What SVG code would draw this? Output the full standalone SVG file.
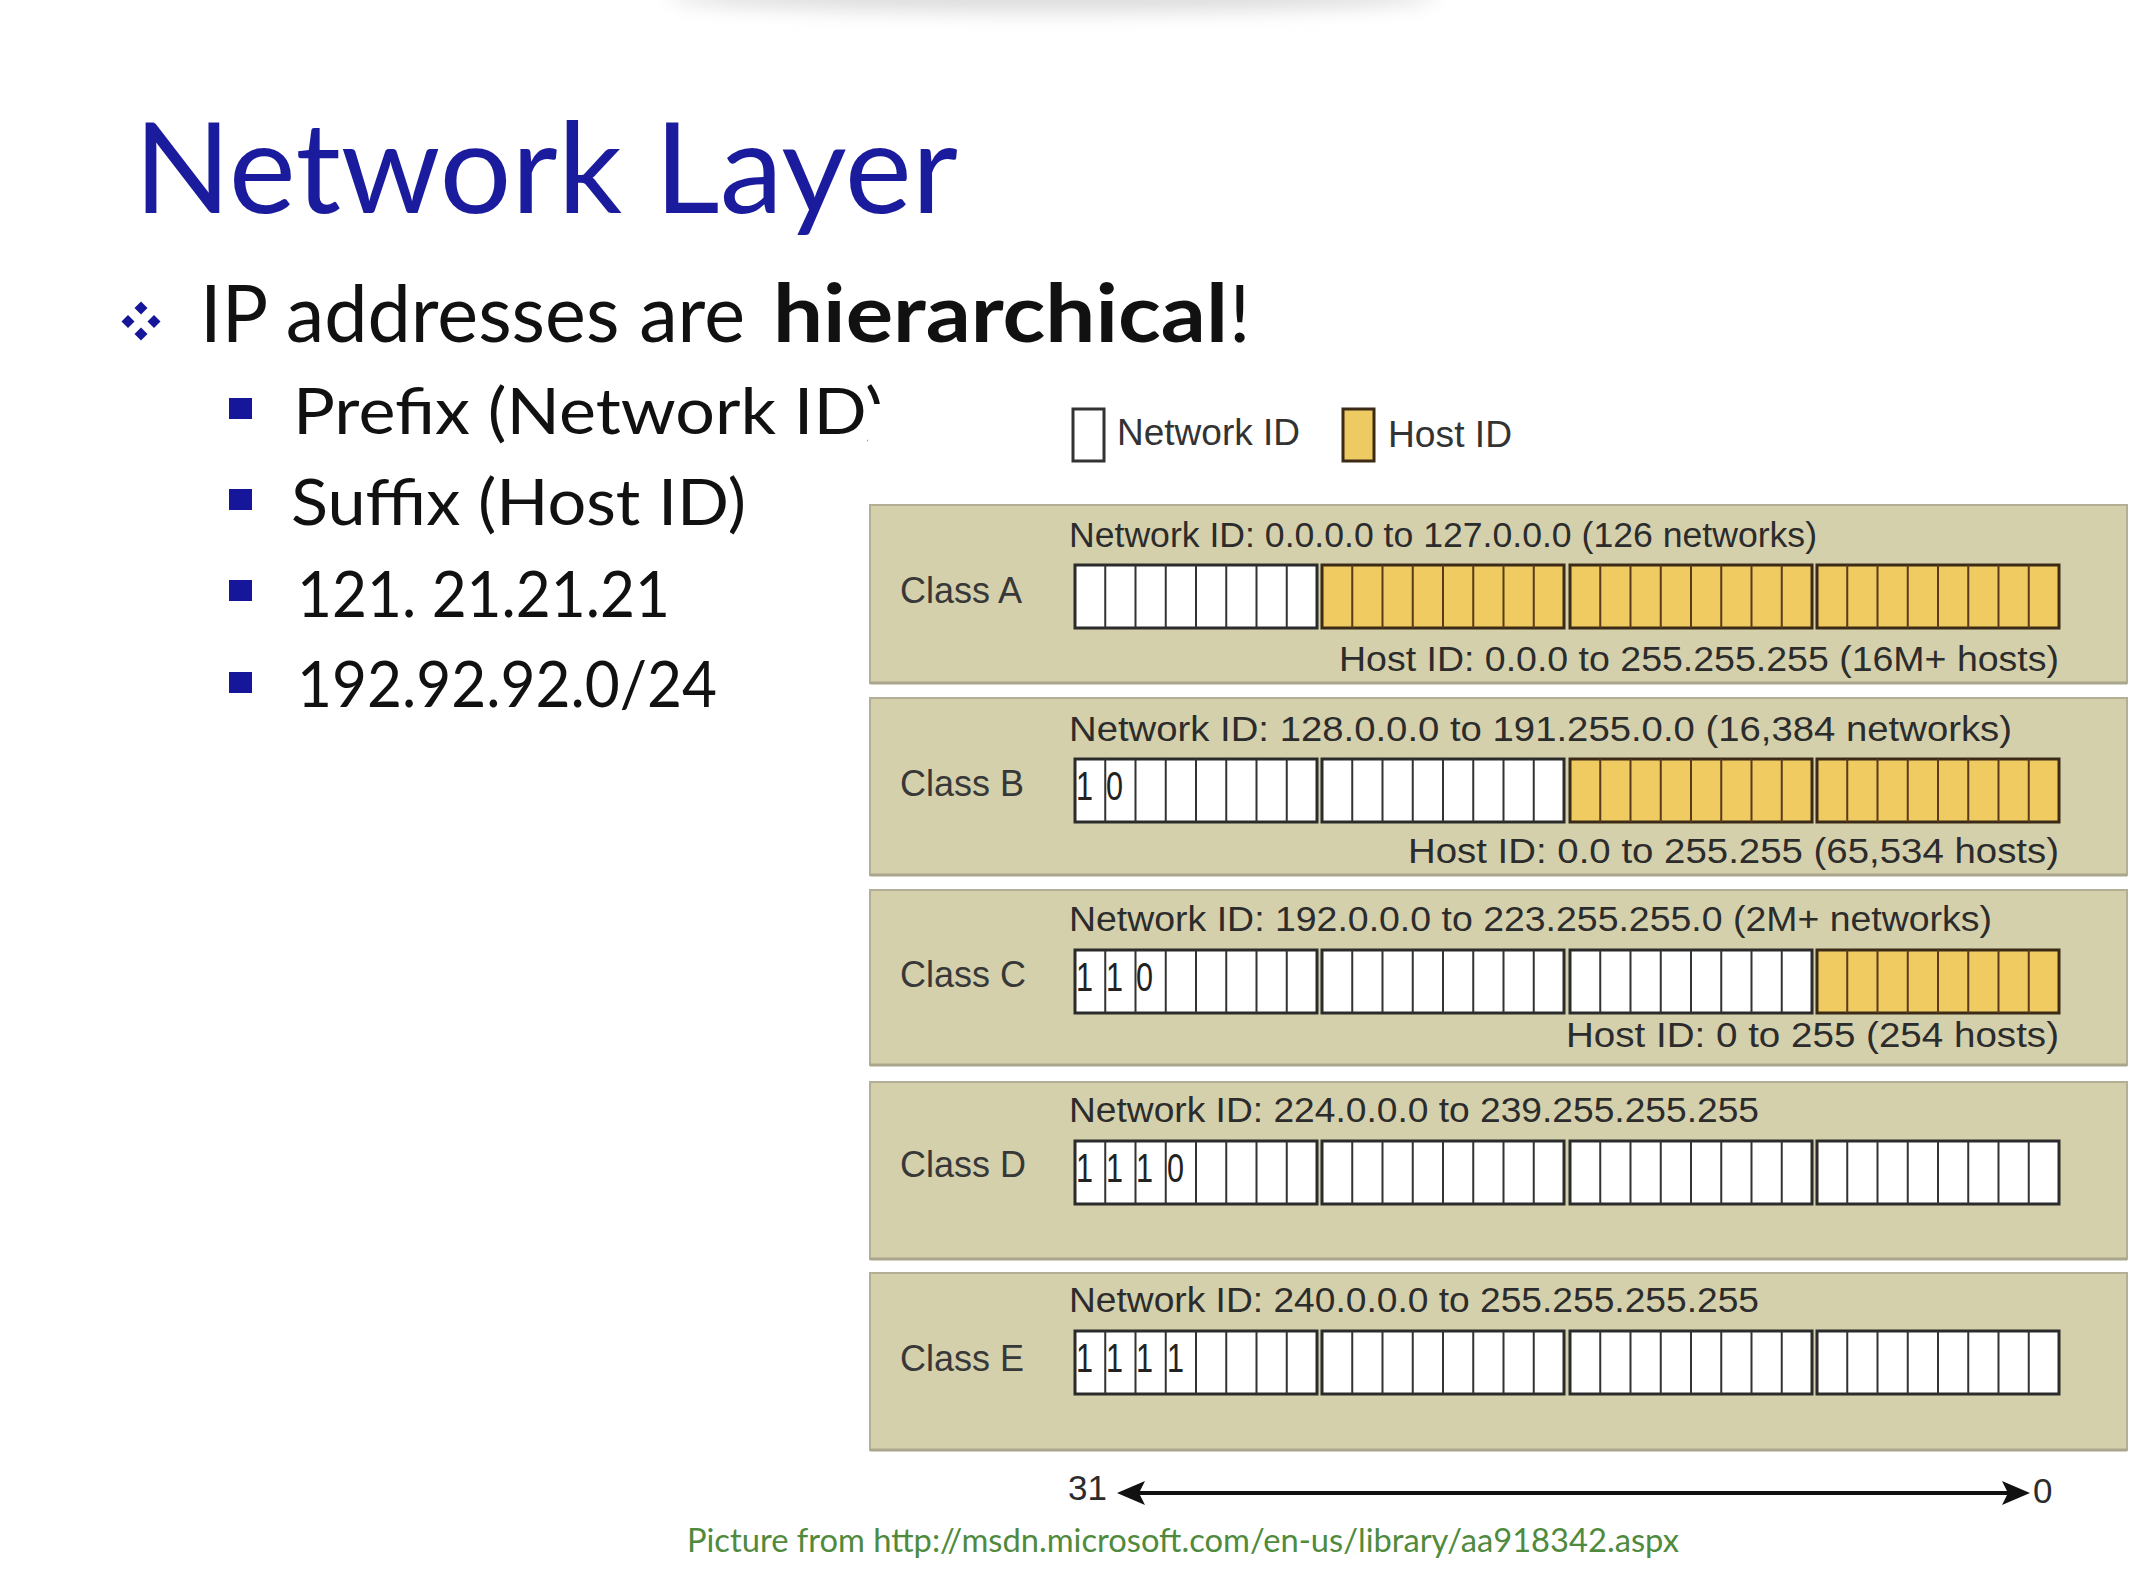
<svg xmlns="http://www.w3.org/2000/svg" xmlns:xlink="http://www.w3.org/1999/xlink" width="2132" height="1584" viewBox="0 0 2132 1584">
  <defs>
    <style>
      .slide { font-family: Lato, "Open Sans", "Noto Sans", sans-serif; }
      .title { font-size: 126px; fill: #1b1b9e; }
      .lvl1 { font-size: 80px; fill: #111111; }
      .lvl2 { font-size: 64px; fill: #111111; }
      .bullet { fill: #16169a; }
      .ms { font-family: "Liberation Sans", Arial, sans-serif; fill: #2c2c2c; }
      .cls { font-size: 36px; fill: #383838; }
      .rng { font-size: 35px; }
      .bit { font-size: 40px; fill: #222222; }
      .legend { font-size: 37px; fill: #333333; }
      .panel { fill: #d5d0ac; stroke: #b2af95; stroke-width: 2; }
      .panel-edge { stroke: #a9a68b; stroke-width: 3; }
      .cellN { fill: #ffffff; stroke: #2b2b2b; stroke-width: 3; }
      .cellH { fill: #efcb62; stroke: #3b2a16; stroke-width: 3; }
      .divN { stroke: #333333; stroke-width: 2; fill: none; }
      .divH { stroke: #5a3a1c; stroke-width: 2; fill: none; }
      .axis { stroke: #111111; stroke-width: 4; fill: none; }
      .credit { font-size: 33px; fill: #4f8a3d; }
    </style>
    <filter id="soft" x="-20%" y="-200%" width="140%" height="500%">
      <feGaussianBlur stdDeviation="10"/>
    </filter>
    <marker id="head" viewBox="0 0 28 24" markerUnits="userSpaceOnUse" markerWidth="28" markerHeight="24" refX="18" refY="12" orient="auto-start-reverse">
      <path d="M0,0 L28,12 L0,24 L6,12 Z" fill="#111111"/>
    </marker>
    <clipPath id="behind-figure" clipPathUnits="userSpaceOnUse">
      <rect x="0" y="0" width="868" height="1584"/>
      <rect x="868" y="0" width="300" height="404"/>
      <rect x="868" y="447" width="300" height="200"/>
    </clipPath>
    <!-- one octet: 8 bit cells -->
    <g id="octN">
      <rect class="cellN" width="242" height="63"/>
      <path class="divN" d="M30.25 0V63M60.5 0V63M90.75 0V63M121 0V63M151.25 0V63M181.5 0V63M211.75 0V63"/>
    </g>
    <g id="octH">
      <rect class="cellH" width="242" height="63"/>
      <path class="divH" d="M30.25 0V63M60.5 0V63M90.75 0V63M121 0V63M151.25 0V63M181.5 0V63M211.75 0V63"/>
    </g>
  </defs>

  <rect width="2132" height="1584" fill="#ffffff"/>
  <!-- soft shade along the top edge -->
  <ellipse cx="1053" cy="-4" rx="385" ry="16" fill="#dcdcdc" filter="url(#soft)"/>

  <!-- slide text -->
  <g id="slide-title" class="slide">
    <text class="title" x="134" y="213" textLength="824" lengthAdjust="spacingAndGlyphs">Network Layer</text>
  </g>

  <g id="bullet-main" class="slide">
    <g class="bullet">
      <path d="M141,301.5 l6.5,6.5 l-6.5,6.5 l-6.5,-6.5 Z"/>
      <path d="M128,315 l6.5,6.5 l-6.5,6.5 l-6.5,-6.5 Z"/>
      <path d="M154,315 l6.5,6.5 l-6.5,6.5 l-6.5,-6.5 Z"/>
      <path d="M141,327.5 l6.5,6.5 l-6.5,6.5 l-6.5,-6.5 Z"/>
    </g>
    <text class="lvl1" x="200" y="342" textLength="545" lengthAdjust="spacingAndGlyphs">IP addresses are</text>
    <text class="lvl1" x="773" y="342" font-weight="bold" textLength="455" lengthAdjust="spacingAndGlyphs">hierarchical</text>
    <text class="lvl1" x="1229" y="342">!</text>
  </g>

  <g id="sub-bullets" class="slide">
    <rect class="bullet" x="229" y="398" width="23" height="21"/>
    <rect class="bullet" x="229" y="489" width="23" height="21"/>
    <rect class="bullet" x="229" y="580" width="23" height="21"/>
    <rect class="bullet" x="229" y="672" width="23" height="21"/>
    <text class="lvl2" x="293" y="434" textLength="591" lengthAdjust="spacingAndGlyphs" clip-path="url(#behind-figure)">Prefix (Network ID)</text>
    <text class="lvl2" x="291" y="525" textLength="455" lengthAdjust="spacingAndGlyphs">Suffix (Host ID)</text>
    <text class="lvl2" x="297" y="617" textLength="373" lengthAdjust="spacingAndGlyphs">121. 21.21.21</text>
    <text class="lvl2" x="297" y="707" textLength="420" lengthAdjust="spacingAndGlyphs">192.92.92.0/24</text>
  </g>

  <!-- legend -->
  <g id="legend" class="ms">
    <rect x="1073" y="409" width="31" height="52" fill="#ffffff" stroke="#333333" stroke-width="3"/>
    <text class="legend" x="1117" y="445" textLength="183" lengthAdjust="spacingAndGlyphs">Network ID</text>
    <rect x="1343" y="409" width="31" height="52" fill="#edcb62" stroke="#3b2a16" stroke-width="3"/>
    <text class="legend" x="1388" y="447" textLength="124" lengthAdjust="spacingAndGlyphs">Host ID</text>
  </g>

  <!-- Class A -->
  <g id="class-a" class="ms">
    <rect class="panel" x="870" y="505" width="1257" height="178"/>
    <line class="panel-edge" x1="870" y1="683" x2="2127" y2="683"/>
    <text class="cls" x="900" y="603">Class A</text>
    <text class="rng" x="1069" y="547" textLength="748" lengthAdjust="spacingAndGlyphs">Network ID: 0.0.0.0 to 127.0.0.0 (126 networks)</text>
    <use href="#octN" x="1075" y="565"/>
    <use href="#octH" x="1322" y="565"/>
    <use href="#octH" x="1570" y="565"/>
    <use href="#octH" x="1817" y="565"/>
    <text class="rng" x="1339" y="671" textLength="720" lengthAdjust="spacingAndGlyphs">Host ID: 0.0.0 to 255.255.255 (16M+ hosts)</text>
  </g>

  <!-- Class B -->
  <g id="class-b" class="ms">
    <rect class="panel" x="870" y="698" width="1257" height="177"/>
    <line class="panel-edge" x1="870" y1="875" x2="2127" y2="875"/>
    <text class="cls" x="900" y="796">Class B</text>
    <text class="rng" x="1069" y="741" textLength="943" lengthAdjust="spacingAndGlyphs">Network ID: 128.0.0.0 to 191.255.0.0 (16,384 networks)</text>
    <use href="#octN" x="1075" y="759"/>
    <use href="#octN" x="1322" y="759"/>
    <use href="#octH" x="1570" y="759"/>
    <use href="#octH" x="1817" y="759"/>
    <text class="bit" x="1076" y="800" textLength="17" lengthAdjust="spacingAndGlyphs">1</text>
    <text class="bit" x="1106" y="800" textLength="17" lengthAdjust="spacingAndGlyphs">0</text>
    <text class="rng" x="1408" y="863" textLength="651" lengthAdjust="spacingAndGlyphs">Host ID: 0.0 to 255.255 (65,534 hosts)</text>
  </g>

  <!-- Class C -->
  <g id="class-c" class="ms">
    <rect class="panel" x="870" y="890" width="1257" height="175"/>
    <line class="panel-edge" x1="870" y1="1065" x2="2127" y2="1065"/>
    <text class="cls" x="900" y="987">Class C</text>
    <text class="rng" x="1069" y="931" textLength="923" lengthAdjust="spacingAndGlyphs">Network ID: 192.0.0.0 to 223.255.255.0 (2M+ networks)</text>
    <use href="#octN" x="1075" y="950"/>
    <use href="#octN" x="1322" y="950"/>
    <use href="#octN" x="1570" y="950"/>
    <use href="#octH" x="1817" y="950"/>
    <text class="bit" x="1076" y="991" textLength="17" lengthAdjust="spacingAndGlyphs">1</text>
    <text class="bit" x="1106" y="991" textLength="17" lengthAdjust="spacingAndGlyphs">1</text>
    <text class="bit" x="1136" y="991" textLength="17" lengthAdjust="spacingAndGlyphs">0</text>
    <text class="rng" x="1566" y="1047" textLength="493" lengthAdjust="spacingAndGlyphs">Host ID: 0 to 255 (254 hosts)</text>
  </g>

  <!-- Class D -->
  <g id="class-d" class="ms">
    <rect class="panel" x="870" y="1082" width="1257" height="177"/>
    <line class="panel-edge" x1="870" y1="1259" x2="2127" y2="1259"/>
    <text class="cls" x="900" y="1177">Class D</text>
    <text class="rng" x="1069" y="1122" textLength="690" lengthAdjust="spacingAndGlyphs">Network ID: 224.0.0.0 to 239.255.255.255</text>
    <use href="#octN" x="1075" y="1141"/>
    <use href="#octN" x="1322" y="1141"/>
    <use href="#octN" x="1570" y="1141"/>
    <use href="#octN" x="1817" y="1141"/>
    <text class="bit" x="1076" y="1182" textLength="17" lengthAdjust="spacingAndGlyphs">1</text>
    <text class="bit" x="1106" y="1182" textLength="17" lengthAdjust="spacingAndGlyphs">1</text>
    <text class="bit" x="1136" y="1182" textLength="17" lengthAdjust="spacingAndGlyphs">1</text>
    <text class="bit" x="1167" y="1182" textLength="17" lengthAdjust="spacingAndGlyphs">0</text>
  </g>

  <!-- Class E -->
  <g id="class-e" class="ms">
    <rect class="panel" x="870" y="1273" width="1257" height="177"/>
    <line class="panel-edge" x1="870" y1="1450" x2="2127" y2="1450"/>
    <text class="cls" x="900" y="1371">Class E</text>
    <text class="rng" x="1069" y="1312" textLength="690" lengthAdjust="spacingAndGlyphs">Network ID: 240.0.0.0 to 255.255.255.255</text>
    <use href="#octN" x="1075" y="1331"/>
    <use href="#octN" x="1322" y="1331"/>
    <use href="#octN" x="1570" y="1331"/>
    <use href="#octN" x="1817" y="1331"/>
    <text class="bit" x="1076" y="1372" textLength="17" lengthAdjust="spacingAndGlyphs">1</text>
    <text class="bit" x="1106" y="1372" textLength="17" lengthAdjust="spacingAndGlyphs">1</text>
    <text class="bit" x="1136" y="1372" textLength="17" lengthAdjust="spacingAndGlyphs">1</text>
    <text class="bit" x="1167" y="1372" textLength="17" lengthAdjust="spacingAndGlyphs">1</text>
  </g>

  <!-- bit numbering axis -->
  <g id="connectors">
    <line class="axis" x1="1127" y1="1493" x2="2020" y2="1493" marker-start="url(#head)" marker-end="url(#head)"/>
  </g>
  <g id="axis-labels" class="ms">
    <text class="rng" x="1068" y="1500">31</text>
    <text class="rng" x="2033" y="1503">0</text>
  </g>

  <g id="credit" class="slide">
    <text class="credit" x="687" y="1552" textLength="992" lengthAdjust="spacingAndGlyphs">Picture from http://msdn.microsoft.com/en-us/library/aa918342.aspx</text>
  </g>
</svg>
